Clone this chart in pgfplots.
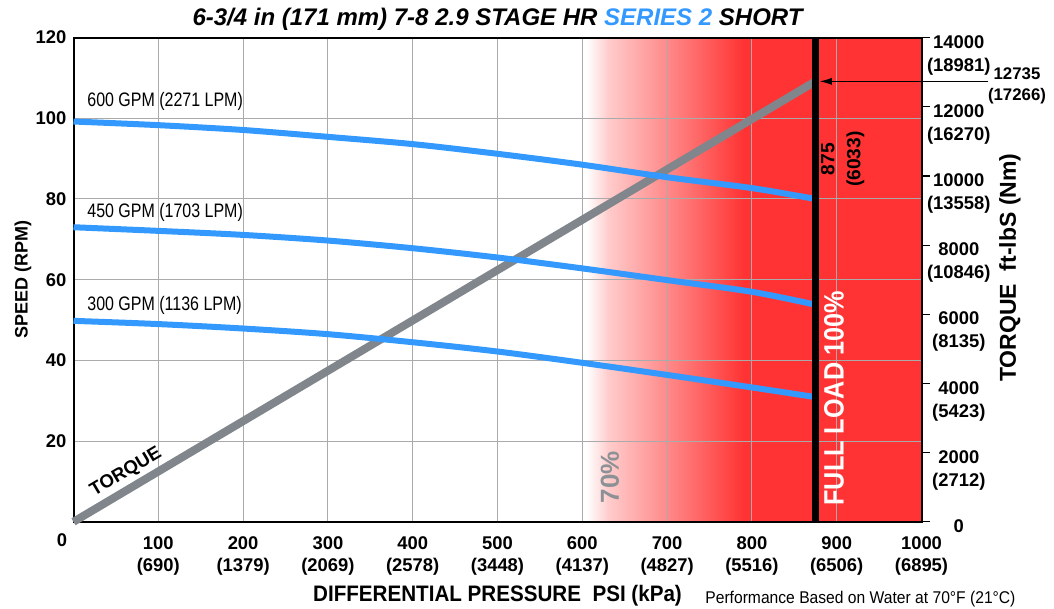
\documentclass[border=0pt]{standalone}
\usepackage{fontspec}
\setmainfont{Liberation Sans}
\newfontfamily\narrowfont[FakeStretch=0.82]{Liberation Sans}
\newfontfamily\semifont[FakeStretch=0.9]{Liberation Sans}
\newfontfamily\condbold[FakeStretch=0.92]{Liberation Sans}
\newfontfamily\footfont[FakeStretch=0.92]{Liberation Sans}
\usepackage{pgfplots}
\usepackage{pgfplotstable}
\pgfplotsset{compat=1.18}
\usetikzlibrary{arrows.meta}
\definecolor{myred}{RGB}{255,51,51}
\definecolor{myblue}{RGB}{51,153,255}
\definecolor{mygray}{RGB}{128,134,139}
\definecolor{gridgray}{RGB}{170,170,170}
\definecolor{pctgray}{RGB}{140,145,150}

\pgfplotstableread{
x y
0 99.2
100 98.3
200 97.1
300 95.4
400 93.6
500 91.2
600 88.5
700 85.4
800 82.7
875 80.0
}\gpmsixhundred
\pgfplotstableread{
x y
0 73.0
100 72.1
200 71.1
300 69.7
400 67.8
500 65.5
600 62.8
700 59.9
800 57.0
875 53.8
}\gpmfourfifty
\pgfplotstableread{
x y
0 49.8
100 49.0
200 47.9
300 46.5
400 44.5
500 42.2
600 39.4
700 36.4
800 33.3
875 30.9
}\gpmthreehundred
\pgfplotstableread{
x t
0 0
875 12735
}\torquetab

\begin{document}
\begin{tikzpicture}
% ---------------- torque axis (right) ----------------
\begin{axis}[
  set layers,
  scale only axis, width=424pt, height=242.1pt,
  xmin=0, xmax=1000, ymin=0, ymax=14000,
  axis x line=none,
  axis y line*=right,
  clip=false,
  scaled y ticks=false,
  ytick={0,2000,4000,6000,8000,10000,12000,14000},
  yticklabels={0,{2000\\(2712)},{4000\\(5423)},{6000\\(8135)},{8000\\(10846)},{10000\\(13558)},{12000\\(16270)},{14000\\(18981)}},
  yticklabel style={align=center, anchor=north, xshift=14.65pt, yshift=4.6pt, font=\bfseries\fontsize{9.2}{11.5}\selectfont},
  tick align=outside, major tick length=4pt,
  ytick style={black, line width=0.6pt},
  axis line style={black, line width=1pt},
]
\addplot[mygray, line width=4pt] table[x=x, y=t] {\torquetab};
\draw[-{Latex[length=6pt,width=3.5pt]}, line width=0.5pt] (axis cs:1078,12735) -- (axis cs:880,12735);
\node[align=center, font=\bfseries\fontsize{8.4}{10.5}\selectfont] at (axis cs:1112.6,12600) {12735\\(17266)};
\node[rotate=90, font=\bfseries\fontsize{11.5}{13}\selectfont] at ([xshift=44.2pt,yshift=6pt]rel axis cs:1,0.5) {TORQUE\ \ ft-lbS (Nm)};
\end{axis}
% ---------------- speed axis (left) ----------------
\begin{axis}[
  set layers,
  scale only axis, width=424pt, height=242.1pt,
  xmin=0, xmax=1000, ymin=0, ymax=120,
  clip=false,
  axis line style={black, line width=1pt},
  grid=major, major grid style={gridgray, line width=0.5pt},
  xtick={100,200,300,400,500,600,700,800,900,1000},
  xticklabels={{100\\(690)},{200\\(1379)},{300\\(2069)},{400\\(2578)},{500\\(3448)},{600\\(4137)},{700\\(4827)},{800\\(5516)},{900\\(6506)},{1000\\(6895)}},
  ytick={20,40,60,80,100,120},
  yticklabels={20,40,60,80,100,120},
  tick style={draw=none},
  xticklabel style={align=center, font=\bfseries\fontsize{9.2}{11}\selectfont, yshift=-3.7pt},
  yticklabel style={font=\bfseries\fontsize{9.2}{11}\selectfont},
]
\begin{pgfonlayer}{axis background}
\fill[left color=white, right color=myred!25] (axis cs:605,0) rectangle (axis cs:631,120);
\fill[left color=myred!25, right color=myred] (axis cs:630,0) rectangle (axis cs:791,120);
\fill[myred] (axis cs:790,0) rectangle (axis cs:1000,120);
\end{pgfonlayer}
\coordinate (SW) at (rel axis cs:0,0);
\addplot[myblue, line width=3pt, smooth] table[x=x, y=y] {\gpmsixhundred};
\addplot[myblue, line width=3pt, smooth] table[x=x, y=y] {\gpmfourfifty};
\addplot[myblue, line width=3pt, smooth] table[x=x, y=y] {\gpmthreehundred};
\addplot[black, line width=3.85pt] coordinates {(875,0) (875,120)};
\node[anchor=west, inner sep=0, font=\narrowfont\fontsize{9.75}{11}\selectfont] at (axis cs:15.9,104.2) {600 GPM (2271 LPM)};
\node[anchor=west, inner sep=0, font=\narrowfont\fontsize{9.75}{11}\selectfont] at (axis cs:15.9,76.7) {450 GPM (1703 LPM)};
\node[anchor=west, inner sep=0, font=\narrowfont\fontsize{9.75}{11}\selectfont] at (axis cs:15.9,53.7) {300 GPM (1136 LPM)};
\node[rotate=30.7, font=\bfseries\fontsize{9.3}{11}\selectfont] at (axis cs:62,12.3) {TORQUE};
\node[rotate=90, align=center, font=\bfseries\fontsize{9.6}{13}\selectfont] at (axis cs:907,89.9) {875\\(6033)};
\node[rotate=90, text=white, font=\semifont\bfseries\fontsize{14}{16}\selectfont] at (axis cs:896.8,30.6) {FULL LOAD 100\%};
\node[rotate=90, text=pctgray, font=\bfseries\fontsize{13}{15}\selectfont] at (axis cs:632.7,11.1) {70\%};
\node[anchor=base, font=\bfseries\itshape\fontsize{12}{14}\selectfont] at ([yshift=5.8pt]rel axis cs:0.5,1) {6-3/4 in (171 mm) 7-8 2.9 STAGE HR \textcolor{myblue}{SERIES 2} SHORT};
\node[rotate=90, font=\bfseries\fontsize{9}{11}\selectfont] at ([xshift=-25.25pt]rel axis cs:0,0.5) {SPEED (RPM)};
\node[font=\bfseries\fontsize{9.2}{11}\selectfont] at ([xshift=-5.75pt,yshift=-9pt]rel axis cs:0,0) {0};
\node[anchor=base, font=\condbold\bfseries\fontsize{11.2}{13}\selectfont] at ([yshift=-40pt]rel axis cs:0.5,0) {DIFFERENTIAL PRESSURE\ \ PSI (kPa)};
\node[anchor=base west, inner sep=0, font=\footfont\fontsize{8.5}{10}\selectfont] at ([xshift=315.75pt,yshift=-40.75pt]rel axis cs:0,0) {Performance Based on Water at 70°F (21°C)};
\end{axis}
\pgfresetboundingbox
\path[use as bounding box] ([shift={(-36.75pt,-43.6pt)}]SW) rectangle ([shift={(490.25pt,260.9pt)}]SW);
\end{tikzpicture}
\end{document}
